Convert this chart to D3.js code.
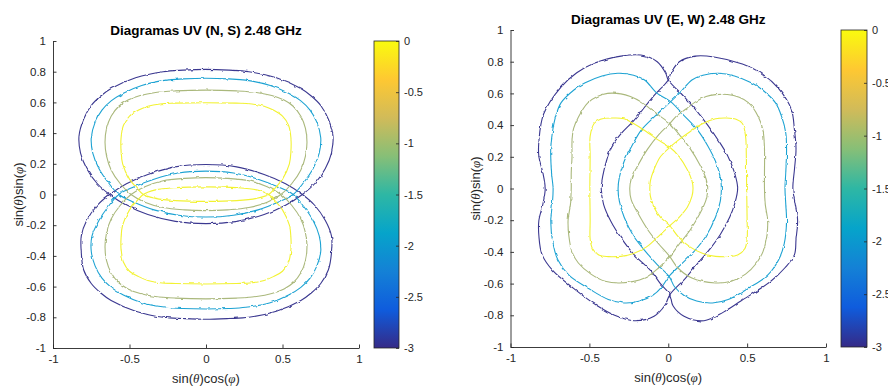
<!DOCTYPE html>
<html>
<head>
<meta charset="utf-8">
<script src="https://cdn.jsdelivr.net/npm/d3@7"></script>
<style>
  html, body { margin: 0; padding: 0; background: #fff; }
  svg { display: block; font-family: "Liberation Sans", Arial, Helvetica, sans-serif; }
</style>
</head>
<body>
<svg id="fig" width="888" height="388"></svg>
<script>
// Contour levels (normalised gain, log units) and tick values
const levels = [-3, -2, -1, 0];
const levelColors = ["#3b3890", "#1fa3d3", "#aab87c", "#f2f233"];
const xTicks = [-1, -0.5, 0, 0.5, 1];
const yTicks = [-1, -0.8, -0.6, -0.4, -0.2, 0, 0.2, 0.4, 0.6, 0.8, 1];
const cbTicks = [0, -0.5, -1, -1.5, -2, -2.5, -3];

// Parula colour map stops (bottom to top of the colour bar)
const parulaStops = ["#352A87", "#0F5CDD", "#1481D6", "#06A4CA", "#2EB7A4", "#87BF77", "#D1BB59", "#FEC832", "#F9FB0E"];

// ---- (N, S) pattern: upper and lower lobes for each level, [u, v] points ----
const nsUpper3 = [[0,0.815],[0.15,0.81],[0.28,0.8],[0.46,0.76],[0.62,0.69],[0.69,0.64],[0.75,0.58],[0.8,0.49],[0.83,0.38],[0.82,0.27],[0.78,0.17],[0.71,0.07],[0.63,0],[0.52,-0.07],[0.38,-0.13],[0.2,-0.175],[0,-0.19],[-0.2,-0.175],[-0.38,-0.13],[-0.52,-0.07],[-0.63,0],[-0.71,0.07],[-0.78,0.17],[-0.82,0.27],[-0.83,0.38],[-0.8,0.49],[-0.75,0.58],[-0.69,0.64],[-0.62,0.69],[-0.46,0.76],[-0.28,0.8],[-0.15,0.81]];
const nsLower3 = [[0,-0.813],[0.15,-0.808],[0.28,-0.8],[0.46,-0.76],[0.62,-0.69],[0.69,-0.64],[0.75,-0.58],[0.8,-0.49],[0.82,-0.38],[0.82,-0.27],[0.78,-0.17],[0.71,-0.07],[0.63,0],[0.52,0.07],[0.38,0.13],[0.2,0.18],[0,0.195],[-0.2,0.18],[-0.38,0.13],[-0.52,0.07],[-0.63,0],[-0.71,-0.07],[-0.78,-0.17],[-0.815,-0.27],[-0.815,-0.38],[-0.8,-0.49],[-0.75,-0.58],[-0.69,-0.64],[-0.62,-0.69],[-0.46,-0.76],[-0.28,-0.8],[-0.15,-0.808]];
const nsUpper2 = [[0,0.757],[0.15,0.753],[0.26,0.745],[0.42,0.71],[0.54,0.66],[0.62,0.61],[0.68,0.55],[0.725,0.47],[0.75,0.37],[0.74,0.27],[0.7,0.17],[0.64,0.08],[0.57,0],[0.47,-0.05],[0.34,-0.1],[0.18,-0.135],[0,-0.147],[-0.18,-0.135],[-0.34,-0.1],[-0.47,-0.05],[-0.57,0],[-0.64,0.08],[-0.7,0.17],[-0.74,0.27],[-0.75,0.37],[-0.725,0.47],[-0.68,0.55],[-0.62,0.61],[-0.54,0.66],[-0.42,0.71],[-0.26,0.745],[-0.15,0.753]];
const nsLower2 = [[0,-0.746],[0.15,-0.743],[0.26,-0.735],[0.42,-0.705],[0.54,-0.655],[0.62,-0.605],[0.68,-0.545],[0.725,-0.465],[0.75,-0.37],[0.74,-0.27],[0.7,-0.17],[0.64,-0.08],[0.57,0],[0.47,0.05],[0.34,0.1],[0.18,0.14],[0,0.152],[-0.18,0.14],[-0.34,0.1],[-0.47,0.05],[-0.57,0],[-0.64,-0.08],[-0.7,-0.17],[-0.745,-0.27],[-0.75,-0.37],[-0.725,-0.465],[-0.68,-0.545],[-0.62,-0.605],[-0.54,-0.655],[-0.42,-0.705],[-0.26,-0.735],[-0.15,-0.743]];
const nsUpper1 = [[0,0.68],[0.2,0.675],[0.33,0.665],[0.43,0.645],[0.51,0.615],[0.57,0.575],[0.62,0.51],[0.65,0.43],[0.66,0.34],[0.65,0.25],[0.62,0.16],[0.56,0.07],[0.49,0],[0.4,-0.05],[0.28,-0.085],[0.14,-0.1],[0,-0.105],[-0.14,-0.1],[-0.28,-0.085],[-0.4,-0.05],[-0.49,0],[-0.56,0.07],[-0.62,0.16],[-0.65,0.25],[-0.66,0.34],[-0.65,0.43],[-0.62,0.51],[-0.57,0.575],[-0.51,0.615],[-0.43,0.645],[-0.33,0.665],[-0.2,0.675]];
const nsLower1 = [[0,-0.68],[0.2,-0.675],[0.33,-0.665],[0.43,-0.645],[0.51,-0.615],[0.57,-0.575],[0.62,-0.51],[0.65,-0.43],[0.66,-0.34],[0.65,-0.25],[0.62,-0.16],[0.56,-0.07],[0.49,0],[0.4,0.05],[0.28,0.09],[0.14,0.105],[0,0.11],[-0.14,0.105],[-0.28,0.09],[-0.4,0.05],[-0.49,0],[-0.56,-0.07],[-0.62,-0.16],[-0.65,-0.25],[-0.66,-0.34],[-0.65,-0.43],[-0.62,-0.51],[-0.57,-0.575],[-0.51,-0.615],[-0.43,-0.645],[-0.33,-0.665],[-0.2,-0.675]];
const nsUpper0 = [[0,0.598],[0.2,0.595],[0.3,0.59],[0.38,0.575],[0.44,0.55],[0.5,0.51],[0.54,0.45],[0.555,0.37],[0.555,0.28],[0.545,0.2],[0.5,0.1],[0.45,0.04],[0.41,0],[0.33,-0.025],[0.2,-0.04],[0,-0.045],[-0.2,-0.04],[-0.33,-0.025],[-0.41,0],[-0.45,0.04],[-0.5,0.1],[-0.545,0.2],[-0.555,0.28],[-0.555,0.37],[-0.54,0.45],[-0.5,0.51],[-0.44,0.55],[-0.38,0.575],[-0.3,0.59],[-0.2,0.595]];
const nsLower0 = [[0,-0.583],[0.2,-0.58],[0.3,-0.575],[0.38,-0.56],[0.44,-0.535],[0.5,-0.5],[0.54,-0.44],[0.555,-0.36],[0.555,-0.28],[0.545,-0.2],[0.5,-0.1],[0.45,-0.04],[0.41,0],[0.33,0.03],[0.2,0.045],[0,0.05],[-0.2,0.045],[-0.33,0.03],[-0.41,0],[-0.45,-0.04],[-0.5,-0.1],[-0.545,-0.2],[-0.555,-0.28],[-0.555,-0.36],[-0.54,-0.44],[-0.5,-0.5],[-0.44,-0.535],[-0.38,-0.56],[-0.3,-0.575],[-0.2,-0.58]];

// ---- (E, W) pattern: left and right lobes for each level, [u, v] points ----
const ewLeft3 = [[0,0.685],[0.1,0.58],[0.18,0.49],[0.25,0.4],[0.32,0.3],[0.375,0.21],[0.42,0.1],[0.44,0],[0.42,-0.1],[0.39,-0.18],[0.33,-0.29],[0.27,-0.375],[0.18,-0.48],[0.11,-0.565],[0.01,-0.67],[-0.02,-0.735],[-0.09,-0.806],[-0.217,-0.834],[-0.34,-0.8],[-0.45,-0.74],[-0.6,-0.63],[-0.73,-0.52],[-0.8,-0.417],[-0.82,-0.3],[-0.82,-0.2],[-0.795,-0.1],[-0.78,0],[-0.795,0.1],[-0.82,0.2],[-0.82,0.3],[-0.79,0.47],[-0.68,0.64],[-0.58,0.73],[-0.47,0.79],[-0.3,0.835],[-0.174,0.842],[-0.07,0.8],[-0.016,0.727]];
const ewRight3 = [[0,0.685],[0.016,0.727],[0.07,0.8],[0.17,0.835],[0.29,0.83],[0.47,0.785],[0.6,0.72],[0.7,0.63],[0.78,0.5],[0.8,0.37],[0.81,0.25],[0.8,0.12],[0.79,0],[0.805,-0.1],[0.82,-0.2],[0.81,-0.32],[0.8,-0.417],[0.74,-0.5],[0.65,-0.585],[0.46,-0.71],[0.35,-0.78],[0.227,-0.834],[0.1,-0.806],[0.03,-0.74],[0.01,-0.67],[-0.05,-0.6],[-0.11,-0.52],[-0.217,-0.417],[-0.3,-0.31],[-0.364,-0.207],[-0.41,-0.1],[-0.425,0],[-0.415,0.08],[-0.39,0.18],[-0.36,0.264],[-0.3,0.345],[-0.217,0.43],[-0.1,0.575]];
const ewLeft2 = [[0.015,0.548],[0.1,0.46],[0.185,0.37],[0.25,0.27],[0.3,0.17],[0.33,0.07],[0.337,0],[0.33,-0.08],[0.3,-0.18],[0.24,-0.3],[0.17,-0.39],[0.08,-0.48],[0.005,-0.554],[-0.04,-0.62],[-0.1,-0.675],[-0.18,-0.71],[-0.28,-0.722],[-0.38,-0.7],[-0.51,-0.628],[-0.63,-0.547],[-0.7,-0.45],[-0.73,-0.35],[-0.745,-0.207],[-0.735,-0.1],[-0.73,0],[-0.74,0.1],[-0.745,0.25],[-0.735,0.35],[-0.715,0.45],[-0.68,0.54],[-0.6,0.62],[-0.53,0.665],[-0.42,0.71],[-0.32,0.727],[-0.22,0.715],[-0.15,0.685],[-0.07,0.6]];
const ewRight2 = [[0.015,0.548],[0.07,0.6],[0.15,0.685],[0.22,0.715],[0.32,0.727],[0.42,0.71],[0.53,0.665],[0.6,0.62],[0.68,0.54],[0.72,0.45],[0.745,0.35],[0.75,0.25],[0.745,0.1],[0.74,0],[0.745,-0.1],[0.75,-0.207],[0.735,-0.35],[0.7,-0.45],[0.63,-0.547],[0.51,-0.628],[0.38,-0.7],[0.28,-0.722],[0.18,-0.71],[0.1,-0.675],[0.04,-0.62],[0.005,-0.554],[-0.07,-0.48],[-0.15,-0.39],[-0.22,-0.3],[-0.28,-0.18],[-0.31,-0.08],[-0.318,0],[-0.31,0.07],[-0.28,0.17],[-0.23,0.27],[-0.17,0.37],[-0.08,0.46]];
const ewLeft1 = [[0.01,0.41],[0.07,0.34],[0.14,0.25],[0.2,0.15],[0.24,0.06],[0.25,0],[0.24,-0.07],[0.2,-0.16],[0.14,-0.26],[0.07,-0.35],[0.01,-0.43],[-0.06,-0.5],[-0.15,-0.565],[-0.3,-0.596],[-0.4,-0.585],[-0.49,-0.54],[-0.57,-0.47],[-0.61,-0.4],[-0.63,-0.3],[-0.635,-0.2],[-0.62,-0.1],[-0.615,0],[-0.615,0.1],[-0.61,0.2],[-0.61,0.3],[-0.6,0.38],[-0.57,0.45],[-0.51,0.54],[-0.45,0.58],[-0.385,0.6],[-0.3,0.597],[-0.24,0.58],[-0.17,0.545],[-0.11,0.5],[-0.05,0.455]];
const ewRight1 = [[0.01,0.41],[0.05,0.455],[0.11,0.5],[0.17,0.545],[0.24,0.58],[0.3,0.592],[0.375,0.593],[0.45,0.575],[0.51,0.54],[0.57,0.455],[0.6,0.37],[0.61,0.25],[0.61,0.1],[0.61,0],[0.615,-0.1],[0.63,-0.2],[0.625,-0.3],[0.6,-0.4],[0.56,-0.47],[0.49,-0.54],[0.4,-0.585],[0.3,-0.596],[0.15,-0.565],[0.06,-0.5],[0.01,-0.43],[-0.06,-0.35],[-0.13,-0.26],[-0.19,-0.16],[-0.235,-0.07],[-0.244,0],[-0.235,0.06],[-0.19,0.15],[-0.13,0.25],[-0.06,0.34]];
const ewLeft0 = [[0.01,0.26],[0.07,0.2],[0.12,0.12],[0.15,0.05],[0.157,0],[0.15,-0.05],[0.12,-0.12],[0.07,-0.18],[0.01,-0.235],[-0.06,-0.3],[-0.14,-0.37],[-0.22,-0.41],[-0.3,-0.428],[-0.38,-0.43],[-0.44,-0.42],[-0.48,-0.38],[-0.495,-0.32],[-0.495,-0.2],[-0.497,0],[-0.495,0.2],[-0.495,0.33],[-0.47,0.41],[-0.43,0.437],[-0.35,0.445],[-0.28,0.44],[-0.22,0.41],[-0.14,0.36],[-0.07,0.31]];
const ewRight0 = [[0.01,0.26],[0.07,0.31],[0.14,0.36],[0.22,0.41],[0.3,0.44],[0.37,0.445],[0.43,0.437],[0.47,0.41],[0.49,0.33],[0.495,0.2],[0.497,0],[0.5,-0.2],[0.5,-0.32],[0.485,-0.38],[0.44,-0.42],[0.38,-0.43],[0.3,-0.428],[0.22,-0.41],[0.14,-0.37],[0.06,-0.3],[0.01,-0.235],[-0.05,-0.18],[-0.09,-0.12],[-0.113,-0.05],[-0.117,0],[-0.113,0.05],[-0.09,0.12],[-0.05,0.2]];

// Grouping of the contour lines per panel
const nsContours = [
  { level: -3, pts: nsUpper3 }, { level: -3, pts: nsLower3 },
  { level: -2, pts: nsUpper2 }, { level: -2, pts: nsLower2 },
  { level: -1, pts: nsUpper1 }, { level: -1, pts: nsLower1 },
  { level: 0,  pts: nsUpper0 }, { level: 0,  pts: nsLower0 }
];
const ewContours = [
  { level: -3, pts: ewLeft3 }, { level: -3, pts: ewRight3 },
  { level: -2, pts: ewLeft2 }, { level: -2, pts: ewRight2 },
  { level: -1, pts: ewLeft1 }, { level: -1, pts: ewRight1 },
  { level: 0,  pts: ewLeft0 }, { level: 0,  pts: ewRight0 }
];

const panels = [
  { id: "ns", title: "Diagramas UV (N, S) 2.48 GHz", contours: nsContours,
    left: 53, right: 359, top: 41, bottom: 348, titleY: 35,
    cbLeft: 374, cbWidth: 25, yLabelX: 22.5, xLabelY: 383 },
  { id: "ew", title: "Diagramas UV (E, W) 2.48 GHz", contours: ewContours,
    left: 510.5, right: 826, top: 30, bottom: 347, titleY: 23.5,
    cbLeft: 841, cbWidth: 26, yLabelX: 479.5, xLabelY: 382 }
];

const svg = d3.select("#fig");
const defs = svg.append("defs");
const AXIS = "#262626";

// Line colour for each contour level
const levelColor = d3.scaleOrdinal().domain(levels).range(levelColors);

const grad = defs.append("linearGradient").attr("id", "parula")
  .attr("x1", 0).attr("y1", 1).attr("x2", 0).attr("y2", 0);
parulaStops.forEach((c, i) => grad.append("stop")
  .attr("offset", i / (parulaStops.length - 1)).attr("stop-color", c));

// Slight waviness on the sampled contour lines
const rough = defs.append("filter").attr("id", "rough")
  .attr("filterUnits", "userSpaceOnUse")
  .attr("x", 0).attr("y", 0).attr("width", 888).attr("height", 388);
rough.append("feTurbulence").attr("type", "fractalNoise")
  .attr("baseFrequency", 0.2).attr("numOctaves", 1).attr("seed", 7).attr("result", "noise");
rough.append("feDisplacementMap").attr("in", "SourceGraphic").attr("in2", "noise")
  .attr("scale", 3).attr("xChannelSelector", "R").attr("yChannelSelector", "G");

const fmt = v => String(v);

function label(g, x, y, parts, size, anchor) {
  const t = g.append("text").attr("x", x).attr("y", y)
    .attr("text-anchor", anchor || "middle")
    .attr("font-size", size).attr("fill", AXIS);
  parts.forEach(p => t.append("tspan").text(p[0])
    .attr("font-style", p[1] ? "italic" : null)
    .attr("font-family", p[1] ? "'Liberation Serif','Times New Roman',serif" : null));
  return t;
}

panels.forEach(p => {
  const g = svg.append("g").attr("class", "panel-" + p.id);
  const x = d3.scaleLinear().domain([-1, 1]).range([p.left, p.right]);
  const y = d3.scaleLinear().domain([-1, 1]).range([p.bottom, p.top]);

  // contour lines
  const line = d3.line()
    .x(d => x(d[0])).y(d => y(d[1]))
    .curve(d3.curveCatmullRomClosed.alpha(0.5));
  g.append("g").attr("filter", "url(#rough)")
    .selectAll("path").data(p.contours).join("path")
    .attr("d", d => line(d.pts))
    .attr("fill", "none")
    .attr("stroke", d => levelColor(d.level))
    .attr("stroke-width", 1.1)
    .attr("stroke-linejoin", "round");

  // axes (ticks point inwards)
  const xa = g.append("g").attr("transform", `translate(0,${p.bottom})`)
    .call(d3.axisBottom(x).tickValues(xTicks).tickFormat(fmt)
      .tickSizeInner(-3.5).tickSizeOuter(0).tickPadding(7));
  const ya = g.append("g").attr("transform", `translate(${p.left},0)`)
    .call(d3.axisLeft(y).tickValues(yTicks).tickFormat(fmt)
      .tickSizeInner(-3.5).tickSizeOuter(0).tickPadding(7));
  [xa, ya].forEach(a => {
    a.select(".domain").attr("stroke", AXIS).attr("stroke-width", 0.9);
    a.selectAll(".tick line").attr("stroke", AXIS).attr("stroke-width", 0.9);
    a.selectAll(".tick text").attr("fill", AXIS)
      .attr("font-size", 11.5).attr("font-family", "'Liberation Sans', Arial, sans-serif");
  });

  // colour bar
  const cy = d3.scaleLinear().domain([-3, 0]).range([p.bottom, p.top]);
  const cb = g.append("g");
  cb.append("rect")
    .attr("x", p.cbLeft).attr("y", p.top)
    .attr("width", p.cbWidth).attr("height", p.bottom - p.top)
    .attr("fill", "url(#parula)");
  const ca = cb.append("g").attr("transform", `translate(${p.cbLeft + p.cbWidth},0)`)
    .call(d3.axisRight(cy).tickValues(cbTicks).tickFormat(fmt)
      .tickSizeInner(-3).tickSizeOuter(0).tickPadding(5));
  ca.select(".domain").remove();
  ca.selectAll(".tick line").attr("stroke", AXIS).attr("stroke-width", 0.8);
  ca.selectAll(".tick text").attr("fill", AXIS)
    .attr("font-size", 11).attr("font-family", "'Liberation Sans', Arial, sans-serif");
  cb.append("rect")
    .attr("x", p.cbLeft).attr("y", p.top)
    .attr("width", p.cbWidth).attr("height", p.bottom - p.top)
    .attr("fill", "none").attr("stroke", AXIS).attr("stroke-width", 0.8);

  // title and axis labels
  g.append("text")
    .attr("x", (p.left + p.right) / 2).attr("y", p.titleY)
    .attr("text-anchor", "middle").attr("font-size", 13.5)
    .attr("font-weight", "bold").attr("fill", "#000")
    .text(p.title);
  label(g, (p.left + p.right) / 2, p.xLabelY,
    [["sin("], ["θ", true], [")cos("], ["φ", true], [")"]], 13);
  label(g, 0, 0,
    [["sin("], ["θ", true], [")sin("], ["φ", true], [")"]], 13)
    .attr("transform", `translate(${p.yLabelX},${(p.top + p.bottom) / 2}) rotate(-90)`);
});
</script>
</body>
</html>
